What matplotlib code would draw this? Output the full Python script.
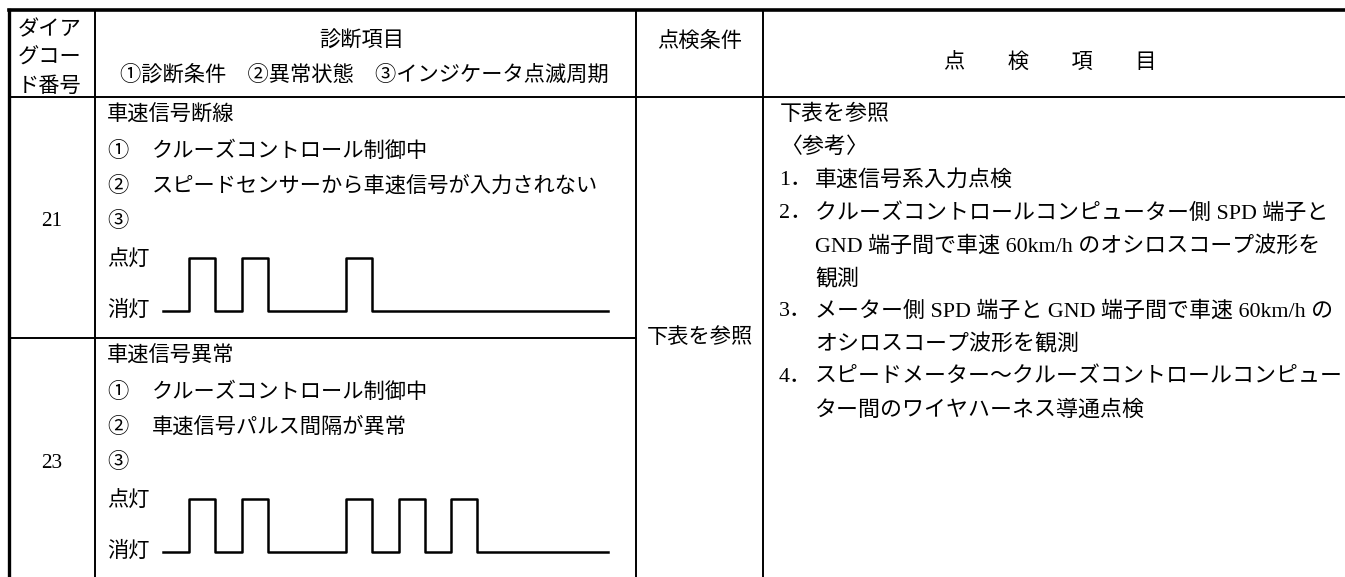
import numpy as np
import matplotlib.pyplot as plt

plt.rcParams['font.family'] = ['Liberation Serif', 'Noto Sans CJK JP']

# ---------------------------------------------------------------
# table content
# ---------------------------------------------------------------
header_code = ['ダイア', 'グコー', 'ド番号']
header_diag = '診断項目'
header_diag_sub = '①診断条件　②異常状態　③インジケータ点滅周期'
header_cond = '点検条件'
header_item = '点　　検　　項　　目'

codes = ['21', '23']
titles = ['車速信号断線', '車速信号異常']
conditions = ['クルーズコントロール制御中', 'クルーズコントロール制御中']
states = ['スピードセンサーから車速信号が入力されない', '車速信号パルス間隔が異常']

# indicator blink pattern, one value per time slot (1 = 点灯, 0 = 消灯)
blink_21 = [0, 1, 0, 1, 0, 0, 0, 1, 0, 0, 0, 0, 0, 0, 0, 0, 0]
blink_23 = [0, 1, 0, 1, 0, 0, 0, 1, 0, 1, 0, 1, 0, 0, 0, 0, 0]
blinks = [blink_21, blink_23]

check_cond = '下表を参照'
check_items = [
    ('', '下表を参照'),
    ('', '〈参考〉'),
    ('1．', '車速信号系入力点検'),
    ('2．', 'クルーズコントロールコンピューター側 SPD 端子と'),
    ('', 'GND 端子間で車速 60km/h のオシロスコープ波形を'),
    ('', '観測'),
    ('3．', 'メーター側 SPD 端子と GND 端子間で車速 60km/h の'),
    ('', 'オシロスコープ波形を観測'),
    ('4．', 'スピードメーター～クルーズコントロールコンピュー'),
    ('', 'ター間のワイヤハーネス導通点検'),
]

# ---------------------------------------------------------------
# layout (pixel coordinates)
# ---------------------------------------------------------------
W, H = 1345, 577
col_x = [9, 95, 636, 763, W]
top_y, head_y, row_y = 10, 97, 338
fs = 15.3
fs_item = 15.8
lw = 1.4

fig = plt.figure(figsize=(W / 100, H / 100), dpi=100)
ax = fig.add_axes([0, 0, 1, 1])
ax.set_xlim(0, W)
ax.set_ylim(H, 0)
ax.axis('off')

# grid lines
ax.plot([col_x[0], W], [top_y, top_y], color='black', lw=2.6)
ax.plot([col_x[0], W], [head_y, head_y], color='black', lw=lw)
ax.plot([col_x[0], col_x[2]], [row_y, row_y], color='black', lw=lw)
ax.plot([col_x[0], col_x[0]], [top_y, H], color='black', lw=2.4)
for x in col_x[1:4]:
    ax.plot([x, x], [top_y, H], color='black', lw=lw)

# header
for i, s in enumerate(header_code):
    ax.text(50, 31 + 28 * i, s, fontsize=fs, ha='center', va='center')
ax.text(362, 42, header_diag, fontsize=fs, ha='center', va='center')
ax.text(364, 76, header_diag_sub, fontsize=fs, ha='center', va='center')
ax.text(700, 42, header_cond, fontsize=fs, ha='center', va='center')
ax.text(1050, 64, header_item, fontsize=fs, ha='center', va='center')

# diagnosis rows
row_tops = [head_y, row_y]
for k in range(len(codes)):
    y0 = row_tops[k]
    ax.text(52, y0 + 125, codes[k], fontsize=fs, ha='center', va='center')
    ax.text(107, y0 + 19, titles[k], fontsize=fs, ha='left', va='center')
    ax.text(107, y0 + 55, '①', fontsize=fs, ha='left', va='center')
    ax.text(152, y0 + 55, conditions[k], fontsize=fs, ha='left', va='center')
    ax.text(107, y0 + 90, '②', fontsize=fs, ha='left', va='center')
    ax.text(152, y0 + 90, states[k], fontsize=fs, ha='left', va='center')
    ax.text(107, y0 + 125, '③', fontsize=fs, ha='left', va='center')

    y_on, y_off = y0 + 161, y0 + 214
    ax.text(107, y_on + 3, '点灯', fontsize=fs, ha='left', va='center')
    ax.text(107, y_off, '消灯', fontsize=fs, ha='left', va='center')

    x_start, x_end = 163, 608
    wax = fig.add_axes([x_start / W, 1 - y_off / H,
                        (x_end - x_start) / W, (y_off - y_on) / H])
    p = blinks[k]
    xs = np.arange(len(p) + 1)
    ys = p + [p[-1]]
    wax.step(xs, ys, where='post', color='black', lw=1.8, clip_on=False)
    wax.set_xlim(0, len(p))
    wax.set_ylim(0, 1)
    wax.axis('off')

# inspection condition (merged cell)
ax.text(700, row_y, check_cond, fontsize=fs, ha='center', va='center')

# inspection items (merged cell)
for i, (num, s) in enumerate(check_items):
    y = 115 + 32.8 * i
    if num:
        ax.text(779, y, num, fontsize=fs_item, ha='left', va='center')
    ax.text(780 if i < 2 else 815, y, s, fontsize=fs_item, ha='left', va='center')

fig.savefig('out.png', dpi=100)
